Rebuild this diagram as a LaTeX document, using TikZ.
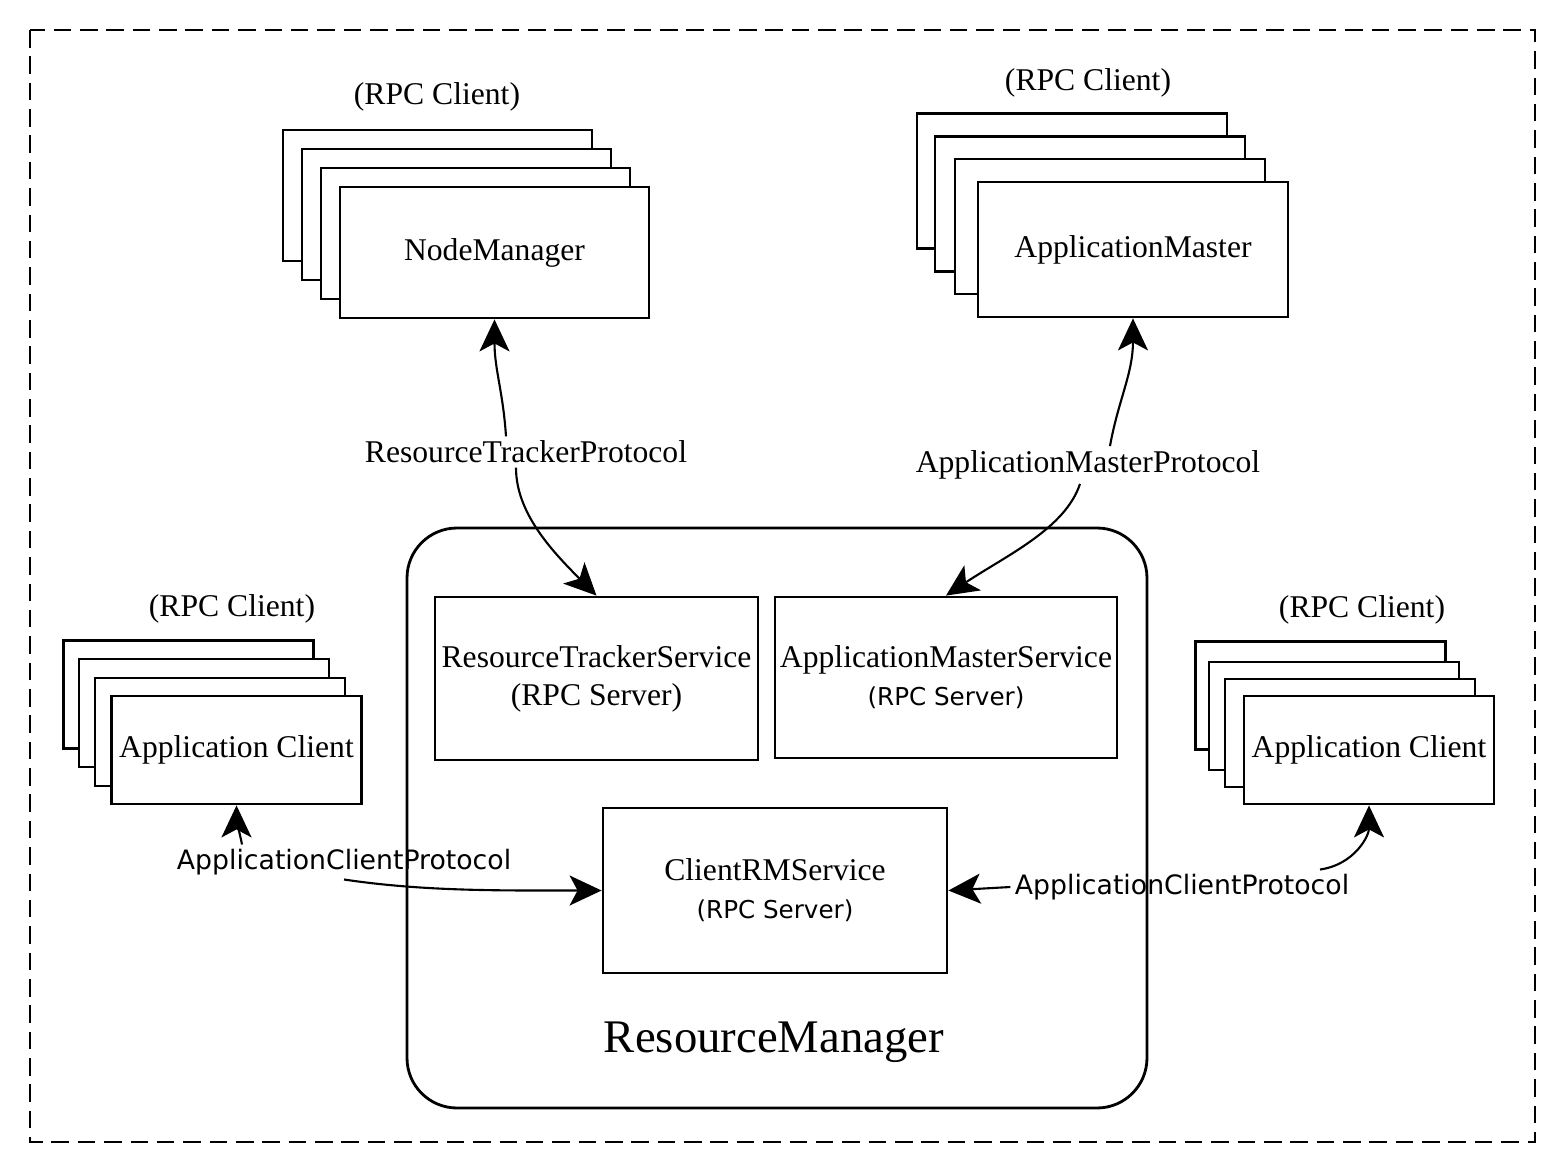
\documentclass[tikz,border=0pt]{standalone}
\usepackage{fontspec}
\setmainfont{Liberation Serif}
\newfontfamily\protofont{DejaVu Sans}
\usetikzlibrary{arrows.meta}

\begin{document}
\begin{tikzpicture}[x=0.1mm,y=-0.1mm,>={Stealth[length=3.2mm,width=3mm,inset=0.8mm]},
                    semithick,font=\fontsize{9}{10.8}\selectfont,
                    card/.style={draw,fill=white,line width=0.8pt,inner sep=0pt},
                    nmcard/.style={card,minimum width=30.9mm,minimum height=13.1mm},
                    amcard/.style={card,minimum width=31mm,minimum height=13.5mm},
                    accard/.style={card,minimum width=25mm,minimum height=10.8mm},
                    service/.style={draw,line width=0.8pt,align=center,inner sep=0pt},
                    lbl/.style={inner sep=1pt},
                    proto/.style={inner sep=1pt,font=\protofont\fontsize{7.6}{9}\selectfont}]

  \useasboundingbox (0,0) rectangle (1568,1162);

  % outer frame
  \draw[line width=0.8pt,dash pattern=on 5pt off 2.5pt] (30,30) rectangle (1535,1142);

  % NodeManager stack
  \node[nmcard] (nm3) at (437.5,195.5) {};
  \node[nmcard] (nm2) at (456.5,214.5) {};
  \node[nmcard] (nm1) at (475.5,233.5) {};
  \node[nmcard] (nm)  at (494.5,252.5) {NodeManager};
  \node[lbl] (nmrpc) at (437,97) {(RPC Client)};

  % ApplicationMaster stack
  \node[amcard] (am3) at (1072,181) {};
  \node[amcard] (am2) at (1090,204) {};
  \node[amcard] (am1) at (1110,226.5) {};
  \node[amcard] (am)  at (1133,249.5) {ApplicationMaster};
  \node[lbl] (amrpc) at (1088,83) {(RPC Client)};

  % client stacks
  \node[accard] (acl3) at (188.5,694.5) {};
  \node[accard] (acl2) at (204,713) {};
  \node[accard] (acl1) at (220,732) {};
  \node[accard] (acl)  at (236.5,750) {Application Client};
  \node[lbl] (aclrpc) at (232,609) {(RPC Client)};

  \node[accard] (acr3) at (1320.5,695.5) {};
  \node[accard] (acr2) at (1334,716) {};
  \node[accard] (acr1) at (1350,733) {};
  \node[accard] (acr)  at (1369,750) {Application Client};
  \node[lbl] (acrrpc) at (1362,610) {(RPC Client)};

  % ResourceManager
  \node[draw,line width=0.8pt,rounded corners=5mm,minimum width=74mm,
        minimum height=58mm] (rm) at (777,818) {};
  \node[font=\fontsize{13.3}{16}\selectfont] (rmname) at (774,1042) {ResourceManager};
  \node[service,minimum width=32.3mm,minimum height=16.3mm] (rts) at (596.5,678.5)
       {ResourceTrackerService\\(RPC Server)};
  \node[service,minimum width=34.2mm,minimum height=16.1mm] (ams) at (946,677.5)
       {ApplicationMasterService\\{\protofont\fontsize{7}{10.8}\selectfont(RPC Server)}};
  \node[service,minimum width=34.4mm,minimum height=16.5mm] (crm) at (775,890.5)
       {ClientRMService\\{\protofont\fontsize{7}{10.8}\selectfont(RPC Server)}};

  % protocols
  \node[lbl] (rtp) at (526,452) {ResourceTrackerProtocol};
  \node[lbl] (amp) at (1088,465) {ApplicationMasterProtocol};
  \node[proto] (acpl) at (344,862) {ApplicationClientProtocol};
  \node[proto] (acpr) at (1182,887) {ApplicationClientProtocol};

  \draw[<-] (nm.south) .. controls +(0,50) and +(-3,-45) .. ([xshift=-2mm]rtp.north);
  \draw[->] ([xshift=-1mm]rtp.south) .. controls +(0,45) and +(-45,-45) .. (rts.north);
  \draw[<-] (am.south) .. controls +(0,55) and +(8,-45) .. ([xshift=2.2mm]amp.north);
  \draw[->] ([xshift=-0.8mm]amp.south) .. controls +(-15,45) and +(60,-40) .. (ams.north);
  \draw[->] ([xshift=-10.2mm]acpl.north) .. controls +(-3,-15) and +(0,15) .. (acl.south);
  \draw[->] (acpl.south) .. controls +(80,12) and +(-100,0) .. (crm.west);
  \draw[->] (acpr.west) -- (crm.east);
  \draw[->] ([xshift=13.8mm]acpr.north) .. controls +(35,-5) and +(0,30) .. (acr.south);
\end{tikzpicture}
\end{document}
